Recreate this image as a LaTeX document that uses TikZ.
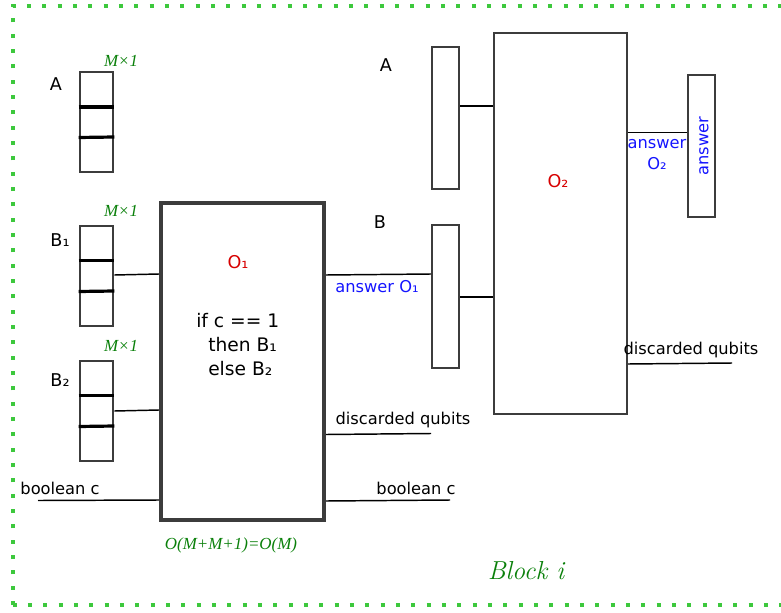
\documentclass[tikz,border=0pt]{standalone}
\usepackage{fontspec}
\setmainfont{DejaVu Sans}
\newfontfamily\serifit{Liberation Serif}
\newfontfamily\lmit{Latin Modern Roman}
\definecolor{frameg}{RGB}{61,200,61}
\definecolor{darkg}{RGB}{10,128,10}
\definecolor{ansblue}{RGB}{20,20,255}
\definecolor{ored}{RGB}{215,0,0}
\definecolor{boxgray}{RGB}{60,60,60}
\tikzset{
  txt/.style={font=\fontsize{12.2}{14.5}\selectfont, inner sep=0pt},
  biglbl/.style={font=\fontsize{13.2}{15}\selectfont, inner sep=0pt},
  sizelbl/.style={font=\fontsize{12.7}{14}\selectfont\serifit\itshape, text=darkg, inner sep=0pt},
  reg/.style={draw=boxgray, line width=2.2pt, minimum width=24.75pt, minimum height=75pt, inner sep=0pt},
  sep/.style={line width=2.4pt, black},
  thinbox/.style={draw=boxgray, line width=1.5pt, inner sep=0pt},
  wire/.style={line width=1.1pt, black},
}
\begin{document}
\begin{tikzpicture}[x=0.75pt,y=-0.75pt]
\useasboundingbox (0,0) rectangle (781,613);
% frame
\draw[frameg, line width=3pt, dash pattern=on 3pt off 8.5pt] (12.5,605) -- (12.5,6) -- (795,6);
\draw[frameg, line width=3pt, dash pattern=on 3pt off 8.5pt] (12.5,605) -- (795,605);

% registers
\node[reg] (A) at (96.5,122) {};
\node[reg] (B1) at (96.5,276) {};
\node[reg] (B2) at (96.5,411) {};
\draw[sep] (A.west |- 0,107) -- (A.east |- 0,107);
\draw[sep] (A.west |- 0,137.5) -- (A.east |- 0,137);
\draw[sep] (B1.west |- 0,260.5) -- (B1.east |- 0,260.5);
\draw[sep] (B1.west |- 0,291.5) -- (B1.east |- 0,291);
\draw[sep] (B2.west |- 0,395.5) -- (B2.east |- 0,395.5);
\draw[sep] (B2.west |- 0,426.5) -- (B2.east |- 0,426);

\node[biglbl] (lA) at (56,84) {A};
\node[biglbl] (lB1) at (60,240) {B₁};
\node[biglbl] (lB2) at (60,380) {B₂};
\node[sizelbl] (mA) at (121,61) {M×1};
\node[sizelbl] (mB1) at (121,211) {M×1};
\node[sizelbl] (mB2) at (121,346) {M×1};

% O1
\node[draw=boxgray, line width=3pt, minimum width=122.25pt, minimum height=237.75pt, inner sep=0pt] (O1) at (242.5,361.5) {};
\node[biglbl, text=ored] (o1l) at (238,262) {O₁};
\node[inner sep=0pt, align=left, anchor=west, font=\fontsize{14}{18}\selectfont] (cond) at (196,344.5) {if c == 1\\ \hspace*{9pt}then B₁\\ \hspace*{9pt}else B₂};
\node[sizelbl] (cost) at (231,545) {O(M+M+1)=O(M)};

% inputs to O1
\draw[wire] (B1.east |- 0,275) -- (O1.west |- 0,274);
\draw[wire] (B2.east |- 0,411) -- (O1.west |- 0,410);
\coordinate (bcin) at (38,500.5);
\draw[wire] (bcin) -- (O1.west |- 0,500);
\node[txt] (lbc) at (60,488) {boolean c};

% O2 side
\node[thinbox, minimum width=20.25pt, minimum height=106.5pt] (Ar) at (445.5,118) {};
\node[thinbox, minimum width=20.25pt, minimum height=107.25pt] (Br) at (445.5,296.5) {};
\node[thinbox, minimum width=99.75pt, minimum height=285.75pt] (O2) at (560.5,223.5) {};
\node[thinbox, minimum width=20.25pt, minimum height=106.5pt] (Ans) at (701.5,146) {};
\node[biglbl] (lA2) at (386,65) {A};
\node[biglbl] (lB) at (380,222) {B};
\node[biglbl, text=ored] (o2l) at (558,181) {O₂};

% outputs of O1
\draw[wire] (O1.east |- 0,275) -- (Br.west |- 0,274);
\node[txt, text=ansblue] (ao1) at (377,287) {answer O₁};
\coordinate (disc1) at (431,433.5);
\draw[wire] (O1.east |- 0,434.5) -- (disc1);
\node[txt] (ld1) at (403,420) {discarded qubits};
\coordinate (bcout) at (450,500);
\draw[wire] (O1.east |- 0,501) -- (bcout);
\node[txt] (lbc2) at (416,488) {boolean c};

% into O2
\draw[wire] (Ar.east |- 0,106) -- (O2.west |- 0,106);
\draw[wire] (Br.east |- 0,297) -- (O2.west |- 0,297);

% outputs of O2
\draw[wire] (O2.east |- 0,132.5) -- (Ans.west |- 0,132.5);
\node[txt, text=ansblue, align=center, font=\fontsize{12.2}{15.75}\selectfont] (ao2) at (657,154.5) {answer\\O₂};
\node[txt, text=ansblue, rotate=90] (anst) at (704,146) {answer};
\coordinate (disc2) at (732,363);
\draw[wire] (O2.east |- 0,364) -- (disc2);
\node[txt] (ld2) at (691,350) {discarded qubits};

\node[font=\fontsize{19.5}{22}\selectfont\lmit\itshape, text=darkg, inner sep=0pt] (blk) at (526,571) {Block i};
\end{tikzpicture}
\end{document}
